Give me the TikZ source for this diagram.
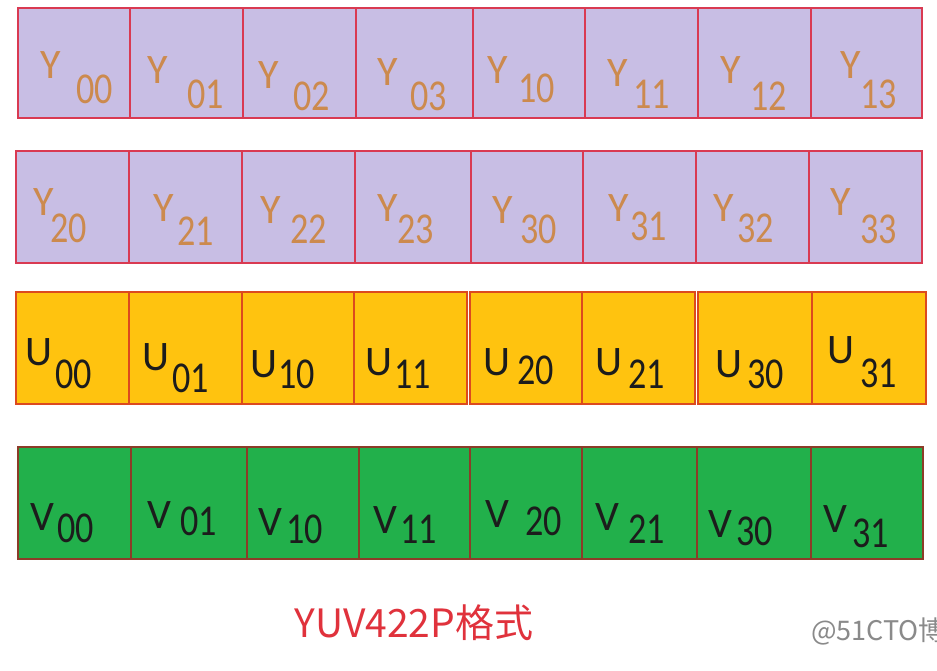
\documentclass[tikz,border=0pt]{standalone}
\usepackage{fontspec}
\setmainfont{Carlito}
\newfontfamily\cjk{Noto Sans CJK SC}
\definecolor{yfill}{HTML}{C8BEE4}
\definecolor{yline}{HTML}{D93A52}
\definecolor{ytext}{HTML}{CC8A4E}
\definecolor{ufill}{HTML}{FFC30F}
\definecolor{uline}{HTML}{DC4A1E}
\definecolor{vfill}{HTML}{22B04B}
\definecolor{vline}{HTML}{8C3C28}
\definecolor{darktext}{HTML}{1C1C1C}
\definecolor{titlered}{HTML}{E0323C}
\definecolor{wmark}{HTML}{8A8A8A}
\tikzset{
  cellbase/.style={rectangle, inner sep=0pt, outer sep=0pt, line width=1.8pt},
  ycell/.style={cellbase, draw=yline, fill=yfill},
  ucell/.style={cellbase, draw=uline, fill=ufill},
  vcell/.style={cellbase, draw=vline, fill=vfill},
  lab/.style={inner sep=0pt, outer sep=0pt, anchor=base west, font=\fontsize{42}{42}\selectfont},
  ylab/.style={lab, text=ytext},
  uvlab/.style={lab, text=darktext},
  title/.style={inner sep=0pt, anchor=base, text=titlered, font=\cjk\fontsize{39}{39}\selectfont},
  wm/.style={inner sep=0pt, anchor=base west, text=wmark, font=\cjk\fontsize{27}{27}\selectfont}
}
% #1 name, #2 style, #3 x1, #4 y1, #5 x2, #6 y2
\newcommand\cellbox[6]{%
  \node[#2, minimum width={(#5-#3)*1pt}, minimum height={(#6-#4)*1pt}] (#1) at ({(#3+#5)/2},{(#4+#6)/2}) {};}
% #1 name, #2 style, #3 letter, #4 lx, #5 ly, #6 sub, #7 sx, #8 sy
\newcommand\celllab[8]{%
  \node[#2] (#1l) at (#4,#5) {#3};
  \node[#2] (#1s) at (#7,#8) {\scalebox{0.86}[1.05]{#6}};}
\begin{document}
\begin{tikzpicture}[x=1pt,y=-1pt]
\useasboundingbox (0,0) rectangle (937,670);
\clip (0,0) rectangle (937,670);
\fill[white] (0,0) rectangle (937,670);
% Row 1
\cellbox{c00}{ycell}{18}{8}{130}{118}
\cellbox{c01}{ycell}{130}{8}{243}{118}
\cellbox{c02}{ycell}{243}{8}{356}{118}
\cellbox{c03}{ycell}{356}{8}{473}{118}
\cellbox{c10}{ycell}{473}{8}{585}{118}
\cellbox{c11}{ycell}{585}{8}{698}{118}
\cellbox{c12}{ycell}{698}{8}{811}{118}
\cellbox{c13}{ycell}{811}{8}{922}{118}
% Row 2
\cellbox{c20}{ycell}{16}{151}{129}{263}
\cellbox{c21}{ycell}{129}{151}{242}{263}
\cellbox{c22}{ycell}{242}{151}{355}{263}
\cellbox{c23}{ycell}{355}{151}{471}{263}
\cellbox{c30}{ycell}{471}{151}{583}{263}
\cellbox{c31}{ycell}{583}{151}{696}{263}
\cellbox{c32}{ycell}{696}{151}{809}{263}
\cellbox{c33}{ycell}{809}{151}{922}{263}
% Row 3
\cellbox{u00}{ucell}{16}{292}{129}{404}
\cellbox{u01}{ucell}{129}{292}{242}{404}
\cellbox{u10}{ucell}{242}{292}{354}{404}
\cellbox{u11}{ucell}{354}{292}{467}{404}
\cellbox{u20}{ucell}{470}{292}{582}{404}
\cellbox{u21}{ucell}{582}{292}{695}{404}
\cellbox{u30}{ucell}{698}{292}{812}{404}
\cellbox{u31}{ucell}{812}{292}{926}{404}
% Row 4
\cellbox{v00}{vcell}{18}{447}{131}{559}
\cellbox{v01}{vcell}{131}{447}{247}{559}
\cellbox{v10}{vcell}{247}{447}{359}{559}
\cellbox{v11}{vcell}{359}{447}{470}{559}
\cellbox{v20}{vcell}{470}{447}{582}{559}
\cellbox{v21}{vcell}{582}{447}{697}{559}
\cellbox{v30}{vcell}{697}{447}{811}{559}
\cellbox{v31}{vcell}{811}{447}{923}{559}
% Labels row 1
\celllab{Y00}{ylab}{Y}{40}{78}{00}{76}{103}
\celllab{Y01}{ylab}{Y}{147}{83}{01}{187}{108}
\celllab{Y02}{ylab}{Y}{258}{88}{02}{293}{110}
\celllab{Y03}{ylab}{Y}{377}{85}{03}{410}{110}
\celllab{Y10}{ylab}{Y}{487}{83}{10}{518}{102}
\celllab{Y11}{ylab}{Y}{607}{86}{11}{633}{108}
\celllab{Y12}{ylab}{Y}{720}{83}{12}{750}{110}
\celllab{Y13}{ylab}{Y}{840}{78}{13}{860}{108}
% Labels row 2
\celllab{Y20}{ylab}{Y}{33}{215}{20}{50}{242}
\celllab{Y21}{ylab}{Y}{153}{221}{21}{177}{245}
\celllab{Y22}{ylab}{Y}{260}{223}{22}{290}{243}
\celllab{Y23}{ylab}{Y}{377}{221}{23}{397}{243}
\celllab{Y30}{ylab}{Y}{492}{223}{30}{520}{243}
\celllab{Y31}{ylab}{Y}{608}{221}{31}{630}{240}
\celllab{Y32}{ylab}{Y}{713}{221}{32}{737}{242}
\celllab{Y33}{ylab}{Y}{830}{215}{33}{860}{243}
% Labels row 3
\celllab{U00}{uvlab}{U}{25}{365}{00}{55}{388}
\celllab{U01}{uvlab}{U}{142}{370}{01}{172}{392}
\celllab{U10}{uvlab}{U}{250}{377}{10}{278}{388}
\celllab{U11}{uvlab}{U}{365}{375}{11}{394}{388}
\celllab{U20}{uvlab}{U}{483}{375}{20}{517}{384}
\celllab{U21}{uvlab}{U}{595}{375}{21}{628}{388}
\celllab{U30}{uvlab}{U}{715}{377}{30}{747}{388}
\celllab{U31}{uvlab}{U}{827}{363}{31}{860}{387}
% Labels row 4
\celllab{V00}{uvlab}{V}{30}{530}{00}{57}{542}
\celllab{V01}{uvlab}{V}{147}{528}{01}{180}{535}
\celllab{V10}{uvlab}{V}{258}{535}{10}{286}{543}
\celllab{V11}{uvlab}{V}{373}{533}{11}{400}{543}
\celllab{V20}{uvlab}{V}{485}{527}{20}{525}{535}
\celllab{V21}{uvlab}{V}{595}{530}{21}{628}{543}
\celllab{V30}{uvlab}{V}{708}{537}{30}{736}{545}
\celllab{V31}{uvlab}{V}{823}{532}{31}{852}{547}
% Title and watermark
\node[title] (title) at (414,637) {YUV422P格式};
\node[wm] (wm) at (811,640) {@51CTO博};
\end{tikzpicture}
\end{document}
